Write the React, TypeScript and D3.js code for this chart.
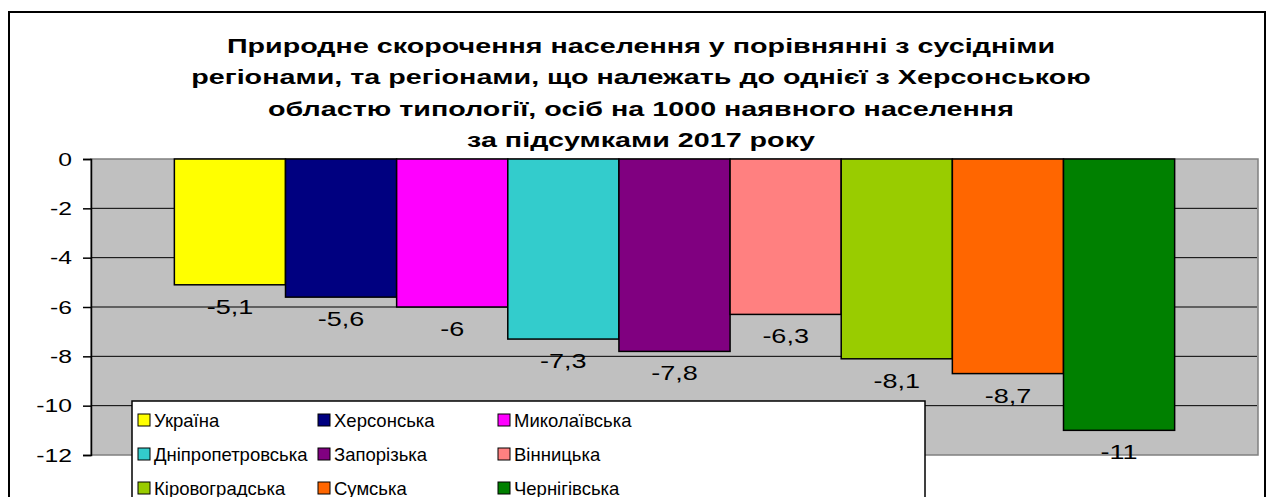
import React, { useRef, useEffect } from "react";
import * as d3 from "d3";

// regions and natural decrease values (per 1000 population, 2017)
const regions = [
  "Україна",
  "Херсонська",
  "Миколаївська",
  "Дніпропетровська",
  "Запорізька",
  "Вінницька",
  "Кіровоградська",
  "Сумська",
  "Чернігівська",
];
const values = [-5.1, -5.6, -6, -7.3, -7.8, -6.3, -8.1, -8.7, -11];
const colors = [
  "#FFFF00",
  "#000080",
  "#FF00FF",
  "#33CCCC",
  "#800080",
  "#FF8080",
  "#99CC00",
  "#FF6600",
  "#008000",
];
const yTicks = [0, -2, -4, -6, -8, -10, -12];
const titleLines = [
  "Природне скорочення населення у порівнянні з сусідніми",
  "регіонами, та регіонами, що належать до однієї з Херсонською",
  "областю типології, осіб на 1000 наявного населення",
  "за підсумками 2017 року",
];

const FONT = "Arial, 'Liberation Sans', sans-serif";

function App() {
  const svgRef = useRef<SVGSVGElement>(null);
  const width = 1266;
  const height = 497;
  const plot = { left: 91, right: 1258, top: 159, bottom: 455 };

  useEffect(() => {
    const svg = d3.select(svgRef.current);
    svg.selectAll("*").remove();

    const x = d3
      .scaleBand<string>()
      .domain(regions)
      .range([plot.left, plot.right])
      .paddingInner(0)
      .paddingOuter(0.75);

    const y = d3.scaleLinear().domain([-12, 0]).range([plot.bottom, plot.top]);

    // outer chart frame
    svg
      .append("rect")
      .attr("x", 9)
      .attr("y", 12)
      .attr("width", 1256)
      .attr("height", 520)
      .attr("fill", "#fff")
      .attr("stroke", "#000")
      .attr("stroke-width", 2);

    // title (the original text is stretched horizontally)
    svg
      .append("g")
      .selectAll("text")
      .data(titleLines)
      .enter()
      .append("text")
      .attr("transform", (d, i) => `translate(641,${53 + i * 31.3}) scale(1.4,1)`)
      .attr("text-anchor", "middle")
      .attr("font-family", FONT)
      .attr("font-weight", "bold")
      .attr("font-size", 20.5)
      .text((d) => d);

    // plot area
    svg
      .append("rect")
      .attr("x", plot.left)
      .attr("y", plot.top)
      .attr("width", plot.right - plot.left)
      .attr("height", plot.bottom - plot.top)
      .attr("fill", "#C0C0C0")
      .attr("stroke", "#808080")
      .attr("stroke-width", 1.5);

    // gridlines
    svg
      .append("g")
      .selectAll("line")
      .data(yTicks.filter((t) => t !== 0 && t !== -12))
      .enter()
      .append("line")
      .attr("x1", plot.left)
      .attr("x2", plot.right - 1)
      .attr("y1", (d) => y(d))
      .attr("y2", (d) => y(d))
      .attr("stroke", "#000")
      .attr("stroke-width", 1);

    // y axis
    const axis = svg
      .append("g")
      .attr("transform", `translate(${plot.left},0)`)
      .call(
        d3
          .axisLeft(y)
          .tickValues(yTicks)
          .tickSize(8)
          .tickFormat((d) => d3.format("d")(d as number).replace("−", "-"))
      );
    axis.select(".domain").attr("stroke", "#000").attr("stroke-width", 1.5);
    axis.selectAll(".tick line").attr("stroke", "#000").attr("stroke-width", 1.5);
    axis
      .selectAll(".tick text")
      .attr("x", 0)
      .attr("transform", "translate(-19,0) scale(1.3,1)")
      .attr("font-family", FONT)
      .attr("font-size", 19)
      .attr("fill", "#000");

    // bars
    svg
      .append("g")
      .selectAll("rect")
      .data(values)
      .enter()
      .append("rect")
      .attr("x", (d, i) => x(regions[i]) as number)
      .attr("y", y(0))
      .attr("width", x.bandwidth())
      .attr("height", (d) => y(d) - y(0))
      .attr("fill", (d, i) => colors[i])
      .attr("stroke", "#000")
      .attr("stroke-width", 1.5);

    // data labels
    svg
      .append("g")
      .selectAll("text")
      .data(values)
      .enter()
      .append("text")
      .attr(
        "transform",
        (d, i) =>
          `translate(${(x(regions[i]) as number) + x.bandwidth() / 2},${y(d) + 29}) scale(1.35,1)`
      )
      .attr("text-anchor", "middle")
      .attr("font-family", FONT)
      .attr("font-size", 20)
      .text((d) => String(d).replace(".", ","));

    // legend
    const legend = svg.append("g");
    legend
      .append("rect")
      .attr("x", 132)
      .attr("y", 401)
      .attr("width", 793)
      .attr("height", 120)
      .attr("fill", "#fff")
      .attr("stroke", "#000")
      .attr("stroke-width", 1.5);

    const colX = [138, 318, 498];
    const item = legend
      .selectAll("g.item")
      .data(regions)
      .enter()
      .append("g")
      .attr("class", "item")
      .attr(
        "transform",
        (d, i) => `translate(${colX[i % 3]},${420 + Math.floor(i / 3) * 34})`
      );
    item
      .append("rect")
      .attr("x", 0)
      .attr("y", -6)
      .attr("width", 12)
      .attr("height", 12)
      .attr("fill", (d, i) => colors[i])
      .attr("stroke", "#000")
      .attr("stroke-width", 1);
    item
      .append("text")
      .attr("x", 16)
      .attr("y", 6.5)
      .attr("font-family", FONT)
      .attr("font-size", 18.5)
      .text((d) => d);
  }, []);

  return (
    <svg
      ref={svgRef}
      width={width}
      height={height}
      style={{ position: "absolute", left: 0, top: 0, display: "block" }}
    />
  );
}

export default App;
